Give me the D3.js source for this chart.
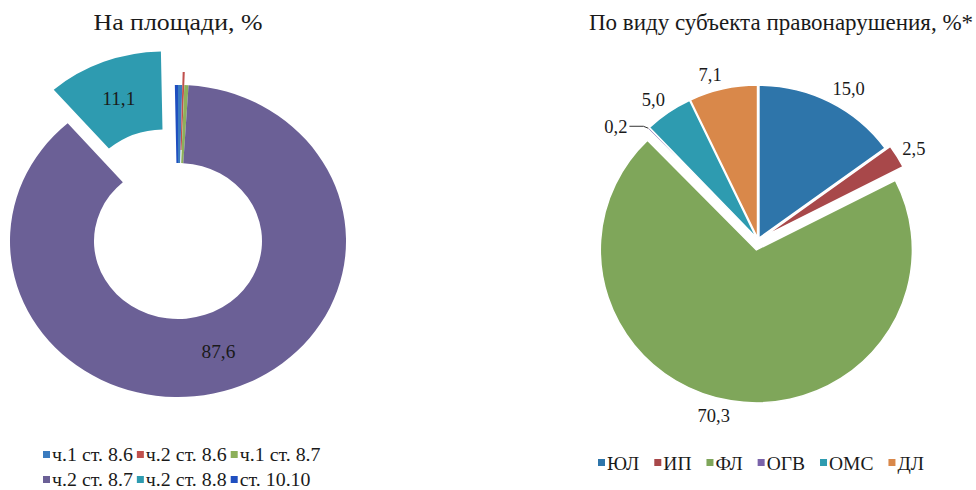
<!DOCTYPE html>
<html lang="ru">
<head>
    <meta charset="UTF-8">
    <title>Правонарушения</title>
    <script src="https://d3js.org/d3.v7.min.js"></script>
    <style>
        body { margin: 0; background: #fff; }
        svg text { font-family: "Liberation Serif", "Times New Roman", serif; fill: #1a1a1a; }
    </style>
</head>
<body>
    <div id="chart"></div>

    <script>
        // left donut - "На площади"
        var leftCats = ["ч.1 ст. 8.6", "ч.2 ст. 8.6", "ч.1 ст. 8.7", "ч.2 ст. 8.7", "ч.2 ст. 8.8", "ст. 10.10"];
        var leftVals = [0.4, 0.2, 0.4, 87.6, 11.1, 0.3];
        var leftColors = ["#3a7bbf", "#c0504d", "#8db05a", "#6b6096", "#2e9bb0", "#1f4fc0"];

        // right pie - "По виду субъекта правонарушения"
        var rightCats = ["ЮЛ", "ИП", "ФЛ", "ОГВ", "ОМС", "ДЛ"];
        var rightVals = [15.0, 2.5, 70.3, 0.2, 5.0, 7.1];
        var rightColors = ["#2e75aa", "#a8484a", "#7fa65a", "#7a63aa", "#2e9bb0", "#d9884a"];

        var width = 976, height = 490;
        var fmt = function(v) { return d3.format(".1f")(v).replace(".", ","); };

        var svg = d3.select("#chart").append("svg")
            .attr("width", width)
            .attr("height", height);

        var pie = d3.pie().sort(null).value(d => d);
        function mid(d) { return (d.startAngle + d.endAngle) / 2; }

        // text placed at x,y, stretched horizontally by sx (left picture is a bit wider)
        function addText(x, y, str, size, sx, anchor) {
            return svg.append("text")
                .attr("transform", "translate(" + x + "," + y + ") scale(" + sx + ",1)")
                .attr("dy", "0.35em")
                .attr("text-anchor", anchor || "middle")
                .style("font-size", size + "px")
                .text(str);
        }

        function drawLegend(cats, colors, x0, rows, gap, size, sx) {
            rows.forEach(function(row) {
                var x = x0;
                row.idx.forEach(function(i) {
                    svg.append("rect")
                        .attr("x", x).attr("y", row.y - 4)
                        .attr("width", 7).attr("height", 7)
                        .attr("fill", colors[i]);
                    var t = addText(x + 9, row.y, cats[i], size, sx, "start");
                    x += 9 + t.node().getComputedTextLength() * sx + gap;
                });
            });
        }

        // ---------- left donut ----------
        var L = { cx: 178, cy: 241, r: 156, r0: 78, sx: 1.077 };
        var leftExplode = { "ч.2 ст. 8.6": 13, "ч.2 ст. 8.8": 36 };
        var leftArc = d3.arc().innerRadius(L.r0).outerRadius(L.r);
        var leftData = pie(leftVals);

        addText(L.cx, 22, "На площади, %", 24, L.sx);

        var lg = svg.append("g")
            .attr("transform", "translate(" + L.cx + "," + L.cy + ") scale(" + L.sx + ",1)");

        function leftOffset(d, i) {
            var e = leftExplode[leftCats[i]] || 0, a = mid(d);
            return [e * Math.sin(a), -e * Math.cos(a)];
        }

        lg.selectAll("path")
            .data(leftData)
            .enter().append("path")
            .attr("d", leftArc)
            .attr("fill", (d, i) => leftColors[i])
            .attr("transform", (d, i) => "translate(" + leftOffset(d, i) + ")");

        leftData.filter(d => d.value > 5).forEach(function(d) {
            var c = leftArc.centroid(d), o = leftOffset(d, d.index);
            addText(L.cx + (c[0] + o[0]) * L.sx, L.cy + c[1] + o[1], fmt(d.value), 18, L.sx);
        });

        drawLegend(leftCats, leftColors, 43, [{ y: 455, idx: [0, 1, 2] }, { y: 480, idx: [3, 4, 5] }], 4, 18.5, L.sx);

        // ---------- right pie ----------
        var R = { cx: 758, cy: 240, r: 153, sx: 1.02 };
        var rightExplode = { "ЮЛ": 2, "ИП": 7, "ФЛ": 10, "ОГВ": 2, "ОМС": 2, "ДЛ": 2 };
        var rightArc = d3.arc().innerRadius(0).outerRadius(R.r);
        var rightData = pie(rightVals);

        addText(781, 22, "По виду субъекта правонарушения, %*", 23, 1);

        var rg = svg.append("g")
            .attr("transform", "translate(" + R.cx + "," + R.cy + ") scale(" + R.sx + ",1)");

        function rightOffset(d, i) {
            var e = rightExplode[rightCats[i]] || 0, a = mid(d);
            return [e * Math.sin(a), -e * Math.cos(a)];
        }

        rg.selectAll("path")
            .data(rightData)
            .enter().append("path")
            .attr("d", rightArc)
            .attr("fill", (d, i) => rightColors[i])
            .attr("stroke", "#fff")
            .attr("stroke-width", 1.5)
            .attr("transform", (d, i) => "translate(" + rightOffset(d, i) + ")");

        // labels outside end; tiny slice gets a leader line
        rightData.forEach(function(d, i) {
            var a = mid(d), e = rightExplode[rightCats[i]] || 0;
            var s = Math.sin(a), c = Math.cos(a);
            if (d.value < 1) {
                var px = R.cx + (R.r + e) * s * R.sx, py = R.cy - (R.r + e) * c;
                svg.append("path")
                    .attr("d", "M" + px + "," + py + "L" + (px - 5) + "," + (py - 2) + "L" + (px - 19) + "," + (py - 2))
                    .attr("fill", "none")
                    .attr("stroke", "#333")
                    .attr("stroke-width", 1);
                addText(px - 21, py - 2, fmt(d.value), 18.5, 1, "end");
                return;
            }
            var dist = R.r + e + 6;
            var px2 = R.cx + dist * s * R.sx, py2 = R.cy - dist * c - 9 * c;
            var anchor = s > 0.05 ? "start" : (s < -0.05 ? "end" : "middle");
            addText(px2, py2, fmt(d.value), 18.5, 1, anchor);
        });

        drawLegend(rightCats, rightColors, 598, [{ y: 463, idx: [0, 1, 2, 3, 4, 5] }], 15, 19.5, 1);
    </script>
</body>
</html>
